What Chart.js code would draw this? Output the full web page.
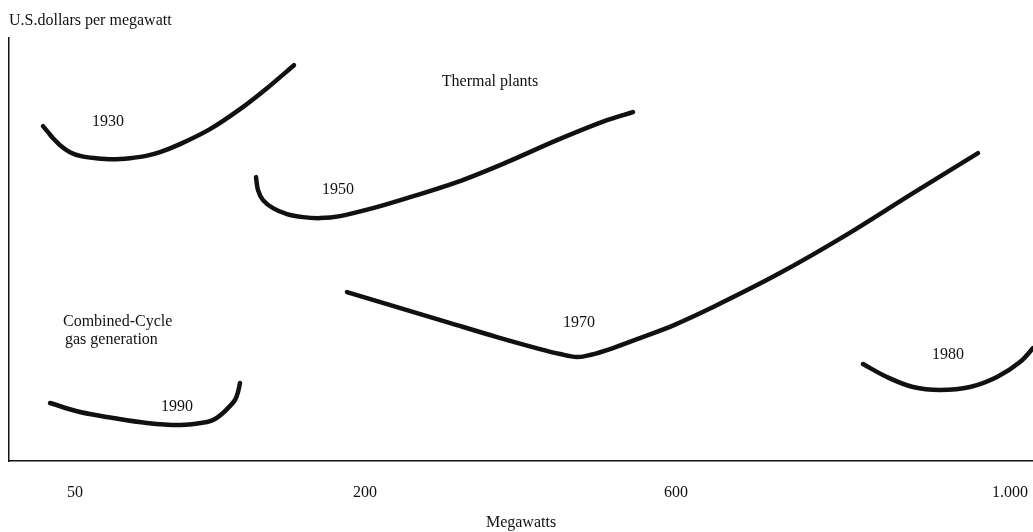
<!DOCTYPE html>
<html>
<head>
<meta charset="utf-8">
<script src="https://cdn.jsdelivr.net/npm/chart.js@4/dist/chart.umd.min.js"></script>
<style>
  html, body { margin: 0; padding: 0; background: #fff; }
  #wrap { width: 1033px; height: 532px; }
</style>
</head>
<body>
<div id="wrap"><canvas id="myChart"></canvas></div>
<script>
// schematic axis units (the source chart has no numeric y scale)
const xTickValues = [66, 356, 667, 1001];
const xTickLabels = ['50', '200', '600', '1.000'];

const curve1930 = [[34,335],[39,329],[44,323],[51,316],[61,309],[72,305],[87,303],[104,302],[121,303],[136,305],[151,309],[171,317],[201,332],[231,352],[258,373],[285,396]];
const curve1950 = [[247,284],[249,271],[254,261],[264,253],[278,247],[294,244],[311,243],[331,245],[364,253],[398,263],[448,279],[498,299],[548,321],[598,341],[624,349]];
const curve1970 = [[338,169],[388,154],[438,139],[488,124],[531,112],[551,107],[568,104],[581,106],[604,113],[631,123],[665,136],[702,153],[769,187],[837,226],[904,268],[969,308]];
const curve1980 = [[854,97],[878,84],[904,74],[931,71],[961,74],[988,84],[1011,99],[1024,113],[1036,128]];
const curve1990 = [[41,58],[71,49],[104,43],[138,38],[171,36],[198,39],[206,42],[214,48],[220,54],[226,61],[229,69],[231,78]];

const curveNames = ['1930', '1950', '1970', '1980', '1990'];
const curves = [curve1930, curve1950, curve1970, curve1980, curve1990];

// text notes on the plot: [text, x, y, align]
const notes = [
    ['1930', 99, 339, 'center'],
    ['1950', 329, 271, 'center'],
    ['1970', 570, 138, 'center'],
    ['1980', 939, 106, 'center'],
    ['1990', 168, 54, 'center'],
    ['Thermal plants', 481, 379, 'center'],
    ['Combined-Cycle', 54, 139, 'left'],
    ['gas generation', 56, 121, 'left'],
];

const FONT = 'Liberation Serif';
const INK = '#111';

let datasets = [];
for(let i = 0; i < curves.length; i++){
    datasets.push({
        label: curveNames[i],
        data: curves[i].map(p => ({x: p[0], y: p[1]})),
        borderColor: INK,
        borderWidth: 4.5,
        borderCapStyle: 'round',
        borderJoinStyle: 'round',
        pointRadius: 0,
        tension: 0.35,
        fill: false,
    });
}

const notesPlugin = {
    id: 'notes',
    afterDatasetsDraw(chart) {
        const {ctx, scales: {x, y}} = chart;
        ctx.save();
        ctx.fillStyle = INK;
        ctx.font = '16px "' + FONT + '"';
        ctx.textBaseline = 'middle';
        notes.forEach(n => {
            ctx.textAlign = n[3];
            ctx.fillText(n[0], x.getPixelForValue(n[1]), y.getPixelForValue(n[2]));
        });
        ctx.restore();
    }
};

const options = {
    responsive: true,
    maintainAspectRatio: false,
    animation: false,
    layout: {
        padding: {left: 9, right: 0, top: 0, bottom: 0}
    },
    plugins: {
        legend: {display: false},
        tooltip: {enabled: false},
        title: {
            display: true,
            text: 'U.S.dollars per megawatt',
            align: 'start',
            color: INK,
            font: {family: FONT, size: 16, weight: 'normal'},
            padding: {top: 11, bottom: 8},
        },
    },
    scales: {
        x: {
            type: 'linear',
            min: 0,
            max: 1024,
            afterBuildTicks(scale){
                scale.ticks = xTickValues.map(v => ({value: v}));
            },
            afterFit(scale){
                scale.height = 71;
                scale.paddingRight = 0;
                scale.paddingLeft = 0;
            },
            ticks: {
                color: INK,
                font: {family: FONT, size: 16},
                padding: 22,
                autoSkip: false,
                maxRotation: 0,
                callback: function(value){
                    let i = xTickValues.indexOf(value);
                    return i >= 0 ? xTickLabels[i] : '';
                },
            },
            grid: {display: false, drawTicks: false},
            border: {display: true, color: INK, width: 1.5},
            title: {
                display: true,
                text: 'Megawatts',
                color: INK,
                font: {family: FONT, size: 16},
                padding: {top: 4, bottom: 0},
            },
        },
        y: {
            type: 'linear',
            min: 0,
            max: 423,
            ticks: {display: false},
            grid: {display: false, drawTicks: false},
            border: {display: true, color: INK, width: 1.5},
        },
    },
};

const chart = new Chart(document.getElementById('myChart'), {
    type: 'line',
    data: {datasets: datasets},
    options: options,
    plugins: [notesPlugin],
});
</script>
</body>
</html>
